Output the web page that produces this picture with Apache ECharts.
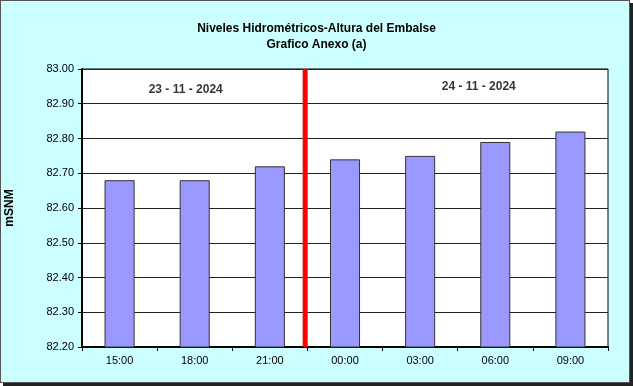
<!DOCTYPE html>
<html><head><meta charset="utf-8">
<script src="https://cdn.jsdelivr.net/npm/echarts@6/dist/echarts.min.js"></script>
<style>
html,body{margin:0;padding:0;background:#fff;width:633px;height:386px;overflow:hidden}
#frame{position:absolute;left:0;top:0;width:628px;height:381px;border:1px solid #555;background:#CCFFFF;box-shadow:3px 3px 0 #222}
#c{position:absolute;left:0;top:0;width:633px;height:386px}
</style></head><body>
<div id="frame"></div>
<div id="c"></div>
<script>
const titleLines = ['Niveles Hidrométricos-Altura del Embalse', 'Grafico Anexo (a)'];
const categories = ['15:00','18:00','21:00','00:00','03:00','06:00','09:00'];
const levels = [82.68, 82.68, 82.72, 82.74, 82.75, 82.79, 82.82];
const yTicks = {min: 82.2, max: 83.0, interval: 0.1};
const yAxisName = 'mSNM';
const dayLabels = [{pos: 1.38, y: 82.94, text: '23 - 11 - 2024'}, {pos: 5.28, y: 82.95, text: '24 - 11 - 2024'}];
const dayBreak = 2.97;

const chart = echarts.init(document.getElementById('c'));
chart.setOption({
  animation: false,
  textStyle: {fontFamily: 'Liberation Sans, Arial, sans-serif'},
  title: {
    text: titleLines.join('\n'), left: 'center', top: 16,
    textStyle: {fontSize: 12, fontWeight: 'bold', color: '#000', lineHeight: 16}
  },
  grid: {left: 82, top: 69, width: 526, height: 278, outerBoundsMode: 'none', containLabel: false, show: true, backgroundColor: '#fff', borderColor: '#000', borderWidth: 1},
  xAxis: [{
    type: 'category', data: categories, boundaryGap: true,
    axisLine: {lineStyle: {color: '#000', width: 2}},
    axisTick: {show: true, length: 4, lineStyle: {color: '#000'}},
    axisLabel: {color: '#000', fontSize: 11, margin: 8}
  }, {
    type: 'value', min: 0, max: 7, show: false
  }],
  yAxis: {
    type: 'value', min: yTicks.min, max: yTicks.max, interval: yTicks.interval,
    name: yAxisName, nameLocation: 'middle', nameGap: 66, nameRotate: 90,
    nameTextStyle: {fontSize: 12, fontWeight: 'bold', color: '#000'},
    axisLine: {show: true, lineStyle: {color: '#000', width: 2}},
    axisTick: {show: true, length: 4, lineStyle: {color: '#000'}},
    axisLabel: {color: '#000', fontSize: 11, margin: 8, formatter: v => v.toFixed(2)},
    splitLine: {lineStyle: {color: '#222', width: 1}}
  },
  series: [{
    type: 'bar', data: levels, barWidth: '40%',
    itemStyle: {color: '#9999FF', borderColor: '#333', borderWidth: 1}
  }, {
    type: 'line', xAxisIndex: 1, data: [[dayBreak, yTicks.min], [dayBreak, yTicks.max]],
    symbol: 'none', lineStyle: {color: '#FF0000', width: 5}, z: 5
  }, {
    type: 'scatter', xAxisIndex: 1, symbolSize: 0,
    data: dayLabels.map(d => ({value: [d.pos, d.y], name: d.text})),
    label: {show: true, position: 'inside', formatter: p => p.name, fontSize: 12, fontWeight: 'bold', color: '#000'}
  }]
});
</script>
</body></html>
